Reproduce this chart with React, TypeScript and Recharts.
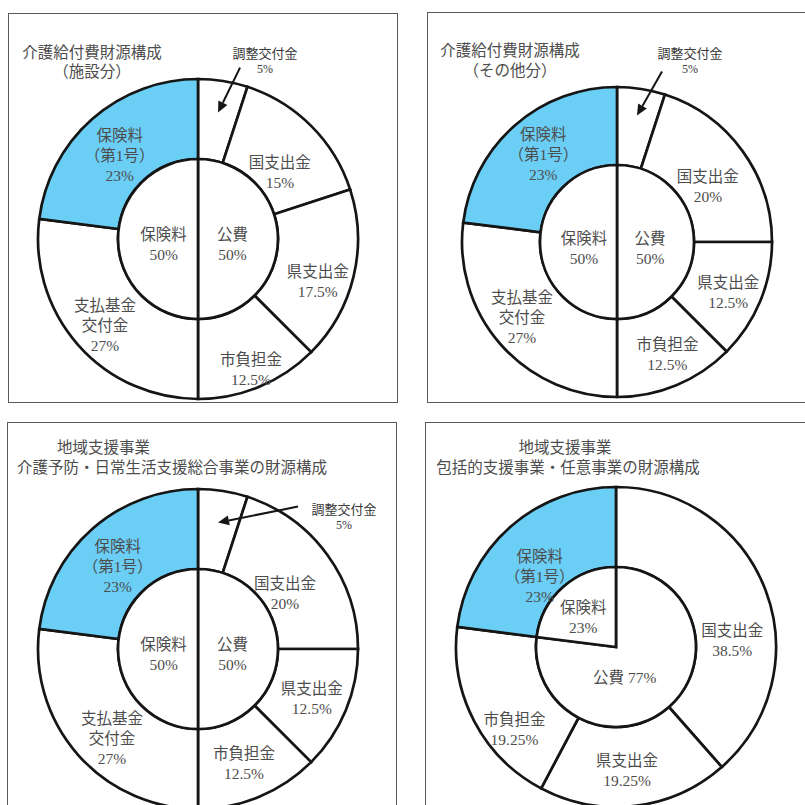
import React from 'react';
import { PieChart, Pie, Cell } from 'recharts';

// ---------- data ----------
const outerNames1 = ['調整交付金', '国支出金', '県支出金', '市負担金', '支払基金\n交付金', '保険料\n（第1号）'];
const outerValues1 = [5, 15, 17.5, 12.5, 27, 23];
const outerNames2 = ['調整交付金', '国支出金', '県支出金', '市負担金', '支払基金\n交付金', '保険料\n（第1号）'];
const outerValues2 = [5, 20, 12.5, 12.5, 27, 23];
const outerNames3 = ['調整交付金', '国支出金', '県支出金', '市負担金', '支払基金\n交付金', '保険料\n（第1号）'];
const outerValues3 = [5, 20, 12.5, 12.5, 27, 23];
const outerNames4 = ['国支出金', '県支出金', '市負担金', '保険料\n（第1号）'];
const outerValues4 = [38.5, 19.25, 19.25, 23];

const innerNames = ['公費', '保険料'];
const innerValues1 = [50, 50];
const innerValues2 = [50, 50];
const innerValues3 = [50, 50];
const innerValues4 = [77, 23];

const titles1 = ['介護給付費財源構成', '（施設分）'];
const titles2 = ['介護給付費財源構成', '（その他分）'];
const titles3 = ['地域支援事業', '介護予防・日常生活支援総合事業の財源構成'];
const titles4 = ['地域支援事業', '包括的支援事業・任意事業の財源構成'];

// ---------- style / layout ----------
const BLUE = '#6BCEF5';
const TEXT = '#4d4d4d';
const STROKE = '#151515';
const FONT = "'Liberation Serif', 'Noto Sans CJK JP', serif";
const RAD = Math.PI / 180;
const LH = 20;

type Callout = { start: [number, number]; text: [number, number] };
type PanelCfg = {
  cx: number; cy: number; ri: number; ro: number;
  outerOffsets: [number, number][];
  innerOffsets: [number, number][];
  innerInline: number[];
  callout?: Callout;
};

const panels: PanelCfg[] = [
  {
    cx: 193, cy: 234, ri: 80, ro: 160,
    outerOffsets: [[0, 0], [-3, 18], [3, 14], [7, 20], [-3, 7], [1, 7]],
    innerOffsets: [[0, 5], [0, 5]],
    innerInline: [],
    callout: { start: [22, -45], text: [47, -59] },
  },
  {
    cx: 612, cy: 237, ri: 77, ro: 155,
    outerOffsets: [[0, 0], [-3, 13], [4, 6], [6, 5], [-8, -1], [3, 0]],
    innerOffsets: [[0, 6], [0, 6]],
    innerInline: [],
    callout: { start: [25, -44], text: [53, -62] },
  },
  {
    cx: 193, cy: 644, ri: 80, ro: 160,
    outerOffsets: [[0, 0], [-10, 15], [3, 4], [0, 4], [4, 10], [-1, 8]],
    innerOffsets: [[0, 5], [0, 5]],
    innerInline: [],
    callout: { start: [80, -16], text: [126, -13] },
  },
  {
    cx: 611, cy: 642, ri: 80, ro: 160,
    outerOffsets: [[4, 36], [-3, 4], [5, 27], [3, 20]],
    innerOffsets: [[-14, 5], [-10, -4]],
    innerInline: [0],
    callout: undefined,
  },
];

const boxes = [
  { left: 8, top: 13, width: 390, height: 390 },
  { left: 427, top: 12, width: 420, height: 391 },
  { left: 7, top: 422, width: 390, height: 420 },
  { left: 425, top: 422, width: 420, height: 420 },
];

type TitleLine = { x: number; y: number; anchor: 'middle' | 'start' };
const titlePos: TitleLine[][] = [
  [{ x: 92, y: 52, anchor: 'middle' }, { x: 92, y: 71, anchor: 'middle' }],
  [{ x: 510, y: 50, anchor: 'middle' }, { x: 510, y: 70, anchor: 'middle' }],
  [{ x: 57, y: 447, anchor: 'start' }, { x: 17, y: 467, anchor: 'start' }],
  [{ x: 565, y: 447, anchor: 'middle' }, { x: 568, y: 467, anchor: 'middle' }],
];

const outerSets = [
  { names: outerNames1, values: outerValues1 },
  { names: outerNames2, values: outerValues2 },
  { names: outerNames3, values: outerValues3 },
  { names: outerNames4, values: outerValues4 },
];
const innerSets = [innerValues1, innerValues2, innerValues3, innerValues4];
const titleSets = [titles1, titles2, titles3, titles4];

const build = (names: string[], values: number[]) =>
  names.map((n, i) => ({ name: n, value: values[i] }));

const renderLines = (lines: string[], x: number, y: number, key: string) => {
  const top = y - ((lines.length - 1) * LH) / 2;
  return (
    <g key={key}>
      {lines.map((l, i) => (
        <text
          key={i}
          x={x}
          y={top + i * LH}
          textAnchor="middle"
          dominantBaseline="central"
          fontSize={15.5}
          fill={TEXT}
          fontFamily={FONT}
        >
          {l}
        </text>
      ))}
    </g>
  );
};

const makeOuterLabel = (names: string[], cfg: PanelCfg) => (props: any) => {
  const { cx, cy, midAngle, innerRadius, outerRadius, index, value } = props;
  if (cfg.callout && index === 0) {
    const r = 128;
    const tx = cx + r * Math.cos(-midAngle * RAD);
    const ty = cy + r * Math.sin(-midAngle * RAD);
    const sx = tx + cfg.callout.start[0];
    const sy = ty + cfg.callout.start[1];
    const len = Math.hypot(tx - sx, ty - sy);
    const ux = (tx - sx) / len;
    const uy = (ty - sy) / len;
    const hl = 11;
    const hw = 5;
    const bx = tx - ux * hl;
    const by = ty - uy * hl;
    const pts = `${tx},${ty} ${bx - uy * hw},${by + ux * hw} ${bx + uy * hw},${by - ux * hw}`;
    const lx = tx + cfg.callout.text[0];
    const ly = ty + cfg.callout.text[1];
    return (
      <g>
        <line x1={sx} y1={sy} x2={bx} y2={by} stroke={STROKE} strokeWidth={2} />
        <polygon points={pts} fill={STROKE} />
        <text x={lx} y={ly} textAnchor="middle" dominantBaseline="central" fontSize={13} fill="#383838" fontFamily={FONT}>
          {names[index]}
        </text>
        <text x={lx} y={ly + 15} textAnchor="middle" dominantBaseline="central" fontSize={12} fill="#383838" fontFamily={FONT}>
          {`${value}%`}
        </text>
      </g>
    );
  }
  const r = (innerRadius + outerRadius) / 2;
  const x0 = cx + r * Math.cos(-midAngle * RAD);
  const y0 = cy + r * Math.sin(-midAngle * RAD);
  const [dx, dy] = cfg.outerOffsets[index];
  const lines = [...names[index].split('\n'), `${value}%`];
  return renderLines(lines, x0 + dx, y0 + dy, 'o' + index);
};

const makeInnerLabel = (names: string[], cfg: PanelCfg) => (props: any) => {
  const { cx, cy, midAngle, outerRadius, index, value } = props;
  const r = outerRadius * 0.43;
  const x0 = cx + r * Math.cos(-midAngle * RAD);
  const y0 = cy + r * Math.sin(-midAngle * RAD);
  const [dx, dy] = cfg.innerOffsets[index];
  const lines = cfg.innerInline.includes(index)
    ? [`${names[index]} ${value}%`]
    : [names[index], `${value}%`];
  return renderLines(lines, x0 + dx, y0 + dy, 'i' + index);
};

export default function App() {
  return (
    <div
      style={{
        position: 'absolute',
        left: 0,
        top: 0,
        width: 805,
        height: 805,
        overflow: 'hidden',
        background: '#fff',
      }}
    >
      {boxes.map((b, i) => (
        <div
          key={i}
          style={{
            position: 'absolute',
            left: b.left,
            top: b.top,
            width: b.width,
            height: b.height,
            border: '1px solid #5a5a5a',
            boxSizing: 'border-box',
          }}
        />
      ))}
      <div style={{ position: 'absolute', left: 0, top: 0 }}>
        <PieChart width={805} height={805}>
          {panels.map((cfg, p) => {
            const outer = build(outerSets[p].names, outerSets[p].values);
            return (
              <Pie
                key={'outer' + p}
                data={outer}
                dataKey="value"
                nameKey="name"
                cx={cfg.cx}
                cy={cfg.cy}
                innerRadius={cfg.ri}
                outerRadius={cfg.ro}
                startAngle={90}
                endAngle={-270}
                stroke={STROKE}
                strokeWidth={2.7}
                label={makeOuterLabel(outerSets[p].names, cfg)}
                labelLine={false}
                isAnimationActive={false}
              >
                {outer.map((d, i) => (
                  <Cell key={i} fill={d.name.startsWith('保険料') ? BLUE : '#ffffff'} />
                ))}
              </Pie>
            );
          })}
          {panels.map((cfg, p) => {
            const inner = build(innerNames, innerSets[p]);
            return (
              <Pie
                key={'inner' + p}
                data={inner}
                dataKey="value"
                nameKey="name"
                cx={cfg.cx}
                cy={cfg.cy}
                innerRadius={0}
                outerRadius={cfg.ri}
                startAngle={90}
                endAngle={-270}
                stroke={STROKE}
                strokeWidth={2.7}
                label={makeInnerLabel(innerNames, cfg)}
                labelLine={false}
                isAnimationActive={false}
              >
                {inner.map((d, i) => (
                  <Cell key={i} fill="#ffffff" />
                ))}
              </Pie>
            );
          })}
        </PieChart>
      </div>
      <svg
        width={805}
        height={805}
        style={{ position: 'absolute', left: 0, top: 0, pointerEvents: 'none' }}
      >
        {titleSets.map((lines, p) =>
          lines.map((t, i) => (
            <text
              key={p + '-' + i}
              x={titlePos[p][i].x}
              y={titlePos[p][i].y}
              textAnchor={titlePos[p][i].anchor}
              dominantBaseline="central"
              fontSize={15.5}
              fill={TEXT}
              fontFamily={FONT}
            >
              {t}
            </text>
          ))
        )}
      </svg>
    </div>
  );
}
